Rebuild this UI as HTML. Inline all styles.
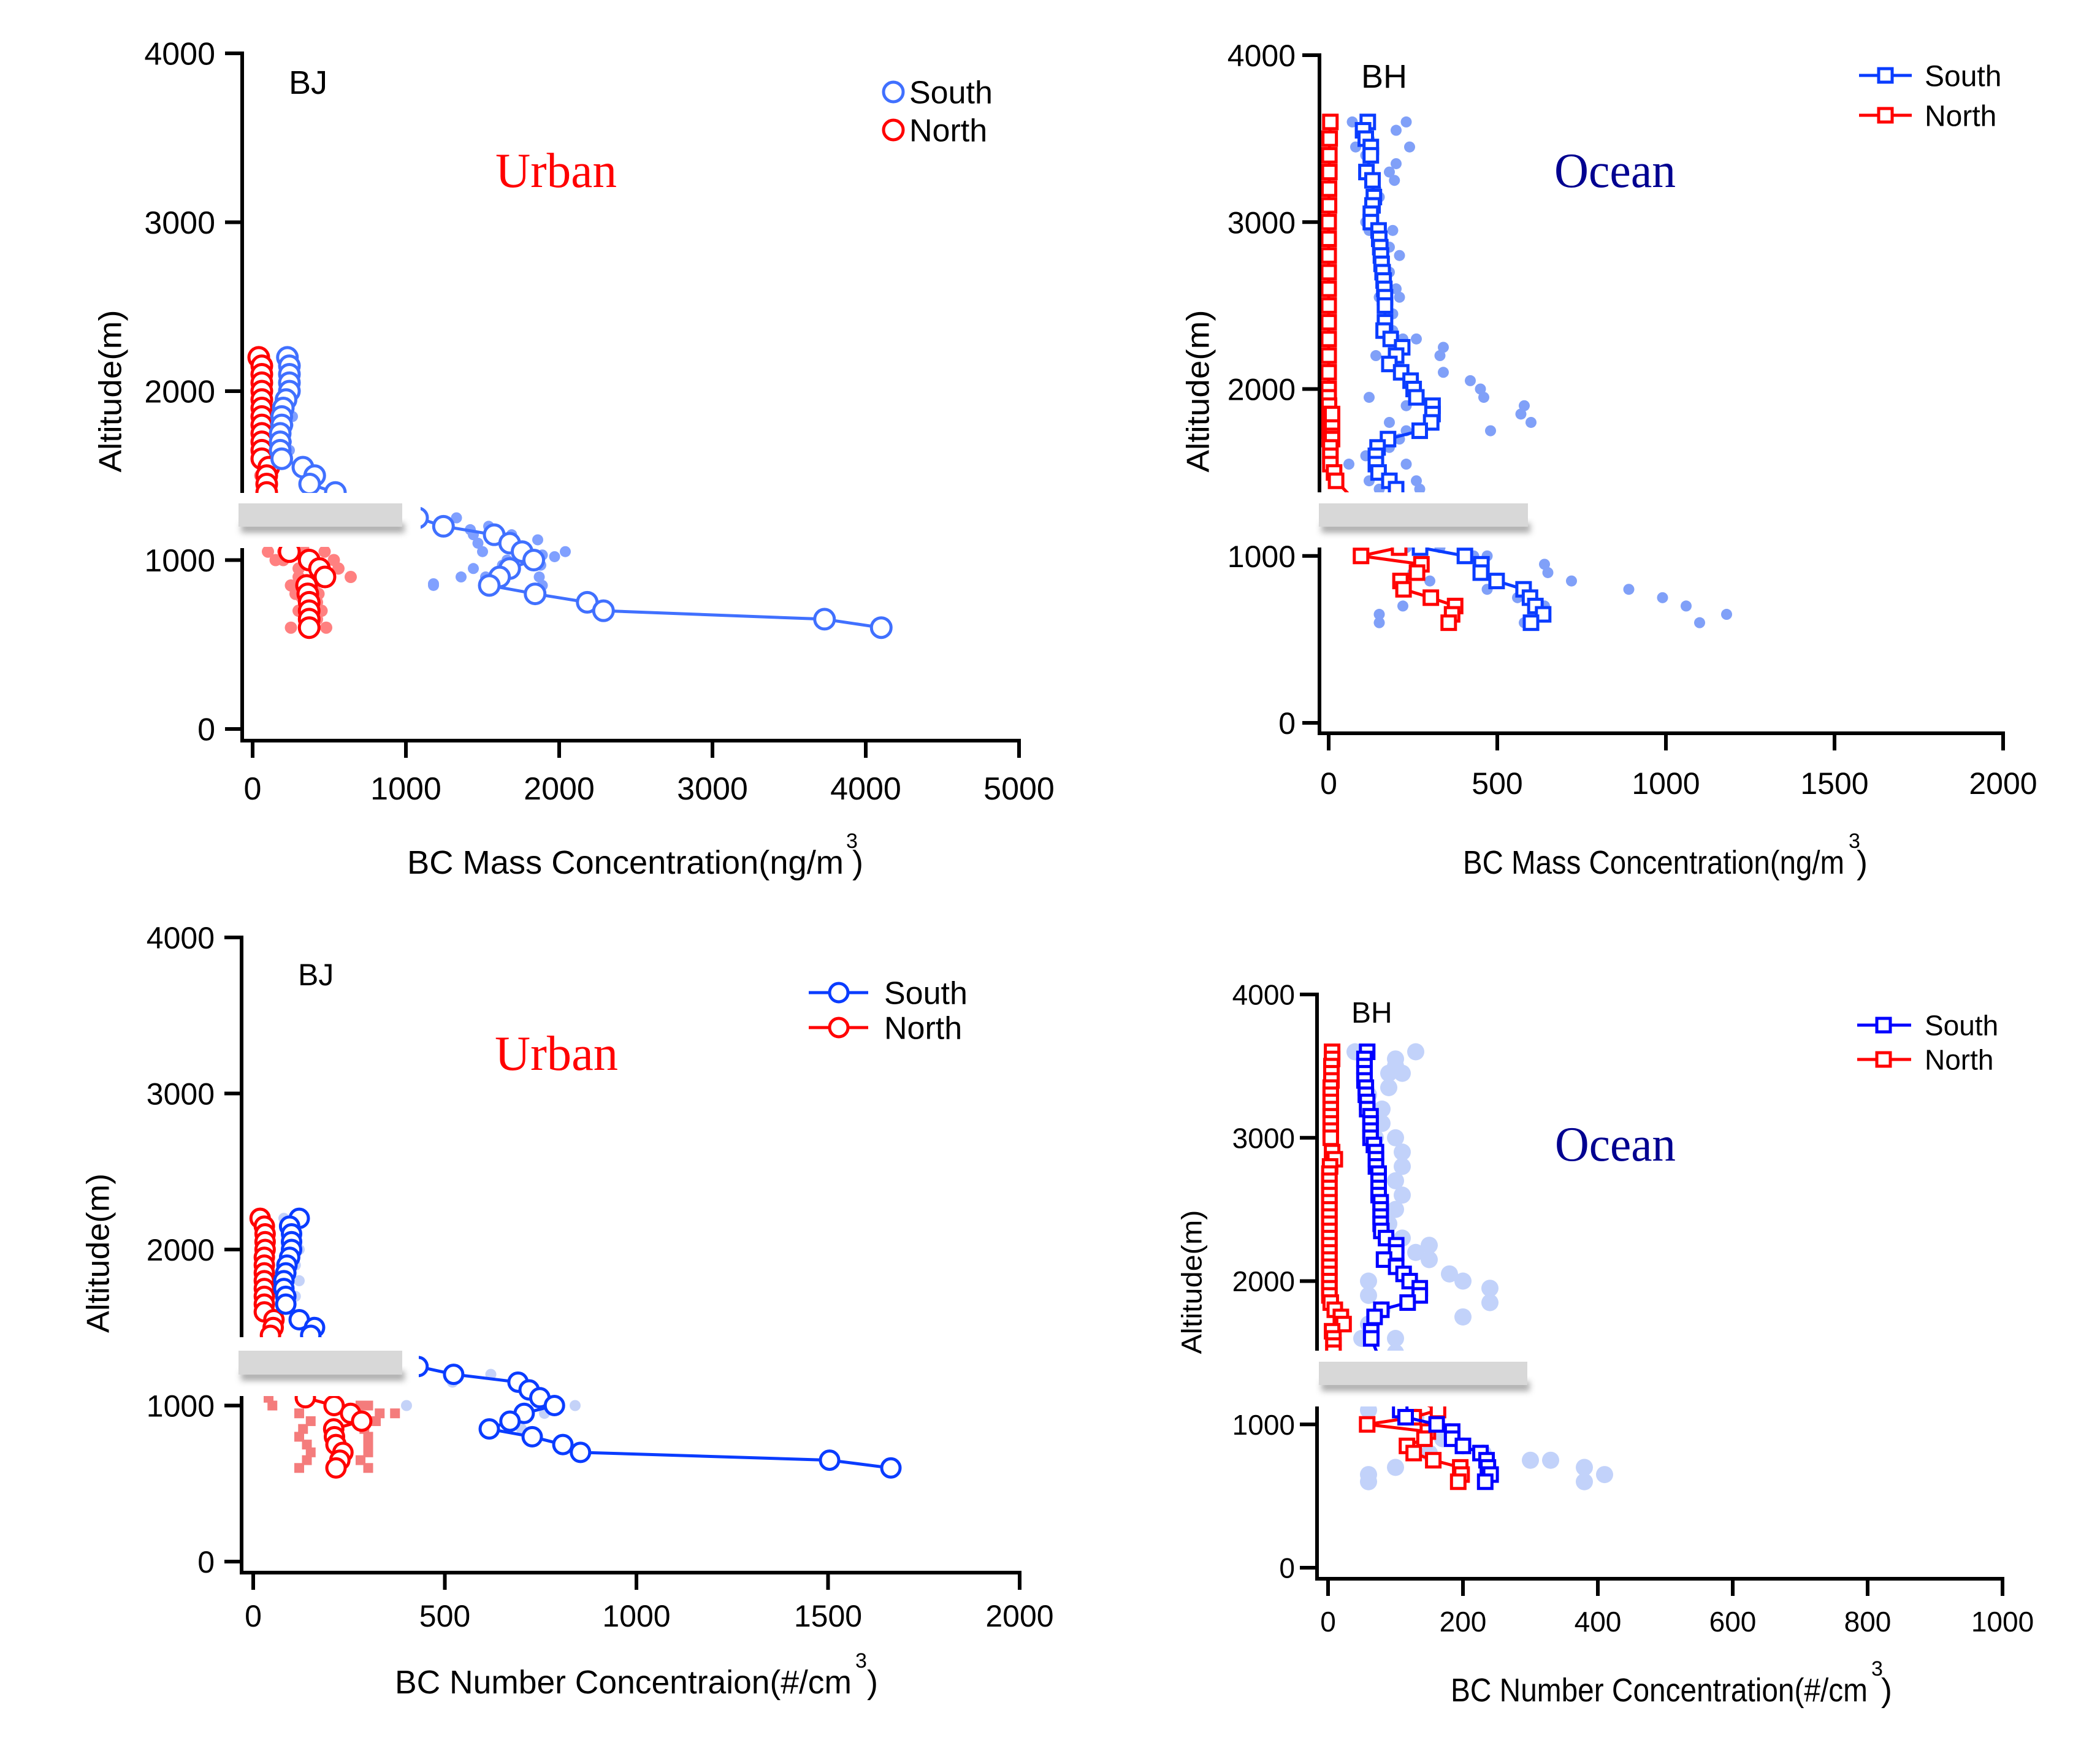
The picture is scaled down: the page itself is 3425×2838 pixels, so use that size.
<!DOCTYPE html>
<html><head><meta charset="utf-8"><title>BC vertical profiles</title>
<style>
html,body{margin:0;padding:0;background:#fff;}
svg{display:block;font-family:"Liberation Sans",Arial,sans-serif;}
</style></head>
<body>
<svg id="fig" xmlns="http://www.w3.org/2000/svg" width="3425" height="2838" viewBox="0 0 3425 2838">
<defs>
<filter id="shadow" x="-10%" y="-50%" width="120%" height="250%">
<feGaussianBlur stdDeviation="5"/>
</filter>
</defs>
<rect x="0" y="0" width="3425" height="2838" fill="#fff"/>
</svg>
<script>
// ---------- Panel 1: BJ mass ----------
const p1SouthX = [227,240,240,240,240,218,200,190,190,180,180,180,190,328,405,372,540,1076,1245,1576,1677,1758,1834,1677,1611,1544,1843,2183,2289,3731,4101];
const p1SouthY = [2200,2150,2100,2050,2000,1950,1900,1850,1800,1750,1700,1650,1600,1550,1500,1450,1400,1250,1200,1150,1100,1050,1000,950,900,850,800,750,700,650,600];
const p1NorthX = [40,60,60,60,60,60,60,60,60,60,60,60,60,106,92,92,92,240,369,436,472,352,360,369,369,369,369];
const p1NorthY = [2200,2150,2100,2050,2000,1950,1900,1850,1800,1750,1700,1650,1600,1550,1500,1450,1400,1050,1000,950,900,850,800,750,700,650,600];
const p1DotBX = [1330,1420,1440,1540,1580,1690,1860,1720,1470,1500,1660,1890,1970,2040,1880,1440,1630,1890,1180,1360,1180,1520,1870,250,240,250,260,230,220,240,200];
const p1DotBY = [1250,1180,1150,1200,1170,1150,1120,1050,1100,1050,1000,1030,1020,1050,970,950,970,850,860,900,850,900,900,2200,2100,2000,1850,1800,1700,1650,1600];
const p1DotRX = [100,150,200,270,330,470,530,560,640,300,250,280,320,300,420,450,420,250,480,400,430,200,300,50,80,40,60,30];
const p1DotRY = [1050,1000,1050,1030,1070,1050,1000,950,900,950,850,800,780,700,750,700,650,600,600,850,800,1000,900,1500,1450,1700,1800,2050];
const p1XTicks = [0,1000,2000,3000,4000,5000];
const p1YTicks = [0,1000,2000,3000,4000];

// ---------- Panel 2: BH mass ----------
const p2SouthX = [116,102,110,125,125,112,130,134,130,125,125,148,150,153,155,157,160,163,165,167,167,167,163,184,218,200,180,215,243,252,260,308,308,304,270,176,145,140,140,148,180,200,271,404,453,451,498,578,597,613,636,600];
const p2SouthY = [3600,3550,3500,3450,3400,3300,3250,3150,3100,3050,3000,2950,2900,2850,2800,2750,2700,2650,2600,2550,2500,2400,2350,2300,2250,2200,2150,2100,2050,2000,1950,1900,1850,1800,1750,1700,1650,1600,1550,1500,1450,1400,1050,1000,950,900,850,800,750,700,650,600];
const p2NorthX = [5,3,2,2,1,1,0,0,0,0,0,0,0,0,0,0,0,0,1,1,2,2,3,3,5,10,10,10,10,5,5,5,16,22,209,96,275,262,213,222,303,375,366,356];
const p2NorthY = [3600,3500,3400,3300,3200,3100,3000,2900,2800,2700,2600,2500,2400,2300,2200,2100,2000,1950,1900,1850,1850,1800,1750,1700,1700,1750,1800,1850,1700,1650,1600,1550,1500,1450,1050,1000,950,900,850,800,750,700,650,600];
const p2DotX = [70,100,120,80,110,230,200,240,200,180,195,140,150,130,110,120,190,180,210,160,180,200,150,210,190,160,190,220,260,340,330,140,340,420,450,460,580,570,600,480,230,120,180,230,210,60,110,180,230,260,120,150,270,230,330,430,470,640,650,720,890,990,1060,1180,1100,640,560,470,220,150,150,580,300,250];
const p2DotY = [3600,3550,3500,3450,3400,3600,3550,3450,3350,3300,3250,3200,3150,3100,3000,2950,2950,2850,2800,2750,2700,2600,2550,2550,2450,2400,2350,2300,2300,2250,2200,2200,2100,2050,2000,1950,1900,1850,1800,1750,1900,1950,1800,1750,1700,1550,1600,1650,1550,1450,1450,1400,1400,1050,1050,1000,1000,950,900,850,800,750,700,650,600,700,750,800,700,650,600,600,850,900];
const p2XTicks = [0,500,1000,1500,2000];
const p2YTicks = [0,1000,2000,3000,4000];

// ---------- Panel 3: BJ number ----------
const p3SouthX = [120,95,100,100,100,95,88,85,80,80,85,85,120,160,150,430,523,691,720,748,786,707,670,616,728,808,854,1504,1664];
const p3SouthY = [2200,2150,2100,2050,2000,1950,1900,1850,1800,1750,1700,1650,1550,1500,1450,1250,1200,1150,1100,1050,1000,950,900,850,800,750,700,650,600];
const p3NorthX = [18,29,31,31,31,29,29,29,29,29,29,29,29,54,52,45,136,211,254,283,210,212,216,234,226,216];
const p3NorthY = [2200,2150,2100,2050,2000,1950,1900,1850,1800,1750,1700,1650,1600,1550,1500,1450,1050,1000,950,900,850,800,750,700,650,600];
const p3DotBX = [130,80,110,120,110,120,110,400,700,760,840,250,300,530,620,520];
const p3DotBY = [2200,2200,2100,2000,1900,1800,1700,1000,850,950,1000,1200,1250,1200,1200,1150];
const p3SqRX = [40,50,120,150,130,120,140,150,140,120,280,300,330,370,320,290,300,300,300,280,300,60,40,20,30,25];
const p3SqRY = [1050,1000,950,900,850,800,750,700,650,600,1000,1000,950,950,900,850,800,750,700,650,600,1500,2100,1900,1800,1700];
const p3XTicks = [0,500,1000,1500,2000];
const p3YTicks = [0,1000,2000,3000,4000];

// ---------- Panel 4: BH number ----------
const p4SouthX = [58,54,54,54,54,56,56,58,58,63,63,63,63,68,71,71,71,75,75,75,75,78,78,78,78,79,86,101,101,83,101,112,121,136,136,118,79,69,64,64,107,115,161,184,184,200,226,235,237,241,233];
const p4SouthY = [3600,3550,3500,3450,3400,3350,3300,3250,3200,3150,3100,3050,3000,2950,2900,2850,2800,2750,2700,2650,2600,2550,2500,2450,2400,2350,2300,2250,2200,2150,2100,2050,2000,1950,1900,1850,1800,1750,1650,1600,1100,1050,1000,950,900,850,800,750,700,650,600];
const p4NorthX = [6,6,5,5,5,4,4,4,4,4,4,4,4,6,10,3,2,2,2,2,2,2,2,2,2,2,2,2,2,2,2,2,2,2,4,10,19,23,6,8,8,8,10,163,127,58,148,143,117,127,156,196,198,193];
const p4NorthY = [3600,3550,3500,3450,3400,3350,3300,3250,3200,3150,3100,3050,3000,2900,2850,2800,2750,2700,2650,2600,2550,2500,2450,2400,2350,2300,2250,2200,2150,2100,2050,2000,1950,1900,1850,1800,1750,1700,1650,1600,1550,1500,1450,1100,1050,1000,950,900,850,800,750,700,650,600];
const p4DotX = [40,100,100,90,90,60,80,80,70,100,110,110,100,110,100,90,110,150,130,150,180,200,240,240,200,60,60,80,60,50,100,100,130,110,60,130,160,180,200,230,300,330,380,410,380,60,60,100,150,170];
const p4DotY = [3600,3550,3500,3450,3350,3300,3200,3100,3000,3000,2900,2800,2700,2600,2500,2400,2300,2250,2200,2150,2050,2000,1950,1850,1750,2000,1900,1800,1700,1600,1600,1500,3600,3450,1100,1050,950,950,850,800,750,750,600,650,700,650,600,700,800,900];
const p4XTicks = [0,200,400,600,800,1000];
const p4YTicks = [0,1000,2000,3000,4000];

const NS = 'http://www.w3.org/2000/svg';
const svg = document.getElementById('fig');
function mk(tag, attrs, parent) {
  const e = document.createElementNS(NS, tag);
  for (const k in attrs) e.setAttribute(k, attrs[k]);
  (parent || svg).appendChild(e);
  return e;
}

const panels = [
  {id:'p1', ax:395, x0:412, xPer:0.25, xMax:5000, y0:1189, yPer:0.2755, xAxisY:1208, ytop:4000,
   xTicks:p1XTicks, yTicks:p1YTicks, lblFs:52, xLblBase:1304, yLblRight:351,
   gap:[804,894], cover:[383,804,303,88], bar:[389,821,267,38],
   south:{x:p1SouthX,y:p1SouthY,color:'#4070ff',marker:'circle',r:16,line:true},
   north:{x:p1NorthX,y:p1NorthY,color:'#ff0000',marker:'circle',r:16,line:false},
   dots:[{x:p1DotBX,y:p1DotBY,color:'#80a0ff',r:9,shape:'c'},{x:p1DotRX,y:p1DotRY,color:'#ff8080',r:10,shape:'c'}],
   site:'BJ', siteX:471, siteY:153, siteFs:54,
   region:'Urban', regX:808, regY:305, regW:198, regColor:'#ff0000',
   title:'BC Mass Concentration(ng/m', titleX:664, titleW:712, titleY:1425, supX:1380, parenX:1390,
   ylab:{x:179,y:638,w:265,fs:52},
   legend:{mx:1457, tx:1483, y1:150, y2:212, fs:52, line:false}},
  {id:'p2', ax:2152, x0:2167, xPer:0.55, xMax:2000, y0:1179, yPer:0.27225, xAxisY:1196, ytop:4000,
   xTicks:p2XTicks, yTicks:p2YTicks, lblFs:50, xLblBase:1295, yLblRight:2113,
   gap:[803,893], cover:[2140,803,355,90], bar:[2151,821,341,38],
   south:{x:p2SouthX,y:p2SouthY,color:'#0a3cff',marker:'square',r:11,line:true},
   north:{x:p2NorthX,y:p2NorthY,color:'#ff0000',marker:'square',r:11,line:true},
   dots:[{x:p2DotX,y:p2DotY,color:'#80a0f8',r:9,shape:'c'}],
   site:'BH', siteX:2220, siteY:143, siteFs:54,
   region:'Ocean', regX:2535, regY:305, regW:198, regColor:'#000090',
   title:'BC Mass Concentration(ng/m', titleX:2386, titleW:622, titleY:1425, supX:3015, parenX:3028,
   ylab:{x:1953,y:638,w:265,fs:52},
   legend:{lx1:3032, lx2:3118, mx:3075, tx:3139, y1:123, y2:188, fs:48, line:true}},
  {id:'p3', ax:394, x0:413, xPer:0.625, xMax:2000, y0:2547, yPer:0.2545, xAxisY:2565, ytop:4000,
   xTicks:p3XTicks, yTicks:p3YTicks, lblFs:50, xLblBase:2653, yLblRight:350,
   gap:[2181,2277], cover:[383,2181,300,96], bar:[389,2203,267,39],
   south:{x:p3SouthX,y:p3SouthY,color:'#0a3cff',marker:'circle',r:15,line:true},
   north:{x:p3NorthX,y:p3NorthY,color:'#ff0000',marker:'circle',r:15,line:true},
   dots:[{x:p3DotBX,y:p3DotBY,color:'#c4d2f8',r:9,shape:'c'},{x:p3SqRX,y:p3SqRY,color:'#f47c7c',r:8,shape:'s'}],
   site:'BJ', siteX:486, siteY:1607, siteFs:50,
   region:'Urban', regX:807, regY:1745, regW:201, regColor:'#ff0000',
   title:'BC Number Concentraion(#/cm', titleX:644, titleW:745, titleY:2762, supX:1395, parenX:1414,
   ylab:{x:159,y:2044,w:260,fs:52},
   legend:{lx1:1319, lx2:1416, mx:1368, tx:1442, y1:1619, y2:1676, fs:52, line:true}},
  {id:'p4', ax:2148, x0:2166, xPer:1.1, xMax:1000, y0:2557, yPer:0.23375, xAxisY:2575, ytop:4000,
   xTicks:p4XTicks, yTicks:p4YTicks, lblFs:46, xLblBase:2661, yLblRight:2112,
   gap:[2203,2294], cover:[2140,2203,355,91], bar:[2151,2221,340,38],
   south:{x:p4SouthX,y:p4SouthY,color:'#0000ff',marker:'square',r:11,line:true},
   north:{x:p4NorthX,y:p4NorthY,color:'#ff0000',marker:'square',r:11,line:true},
   dots:[{x:p4DotX,y:p4DotY,color:'#c2d2fa',r:14,shape:'c'}],
   site:'BH', siteX:2204, siteY:1668, siteFs:48,
   region:'Ocean', regX:2536, regY:1893, regW:197, regColor:'#000090',
   title:'BC Number Concentration(#/cm', titleX:2366, titleW:680, titleY:2775, supX:3052, parenX:3068,
   ylab:{x:1943,y:2091,w:235,fs:46},
   legend:{lx1:3029, lx2:3117, mx:3072, tx:3139, y1:1672, y2:1728, fs:46, line:true}}
];

panels.forEach(p => {
  const sx = v => p.x0 + v * p.xPer;
  const sy = a => p.y0 - a * p.yPer;
  const g = mk('g', {});
  
  

  p.dots.forEach((d, di) => {
    const dg = mk('g', {fill: d.color}, g);
    
    
    d.x.forEach((v, i) => {
      let e;
      if (d.shape === 's') e = mk('rect', {x: sx(v) - d.r, y: sy(d.y[i]) - d.r, width: 2 * d.r, height: 2 * d.r}, dg);
      else e = mk('circle', {cx: sx(v), cy: sy(d.y[i]), r: d.r}, dg);
      
      
    });
  });

  [['north', p.north], ['south', p.south]].forEach(([nm, s]) => {
    const sg = mk('g', {}, g);
    
    
    if (s.line) {
      const pts = s.x.map((v, i) => sx(v) + ',' + sy(s.y[i])).join(' ');
      const pl = mk('polyline', {points: pts, fill: 'none', stroke: s.color, 'stroke-width': 5, 'stroke-linejoin': 'round'}, sg);
      
      
    }
    s.x.forEach((v, i) => {
      let e;
      if (s.marker === 'circle') e = mk('circle', {cx: sx(v), cy: sy(s.y[i]), r: s.r, fill: '#fff', stroke: s.color, 'stroke-width': 5}, sg);
      else e = mk('rect', {x: sx(v) - s.r, y: sy(s.y[i]) - s.r, width: 2 * s.r, height: 2 * s.r, fill: '#fff', stroke: s.color, 'stroke-width': 5}, sg);
      
      
    });
  });

  const cv = mk('rect', {x: p.cover[0], y: p.cover[1], width: p.cover[2], height: p.cover[3], fill: '#fff'}, g);
  
  
  const sh = mk('rect', {x: p.bar[0] + 4, y: p.bar[1] + p.bar[3] - 6, width: p.bar[2], height: 16, fill: '#999', opacity: 0.8, filter: 'url(#shadow)'}, g);
  
  
  const br = mk('rect', {x: p.bar[0], y: p.bar[1], width: p.bar[2], height: p.bar[3], fill: '#d8d8d8'}, g);
  
  

  const ytopPx = sy(p.ytop);
  const ya1 = mk('line', {x1: p.ax, y1: ytopPx - 3, x2: p.ax, y2: p.gap[0], stroke: '#000', 'stroke-width': 6}, g);
  
  
  const ya2 = mk('line', {x1: p.ax, y1: p.gap[1], x2: p.ax, y2: p.xAxisY + 3, stroke: '#000', 'stroke-width': 6}, g);
  
  
  const xa = mk('line', {x1: p.ax - 3, y1: p.xAxisY, x2: sx(p.xMax) + 3, y2: p.xAxisY, stroke: '#000', 'stroke-width': 6}, g);
  
  

  p.yTicks.forEach(t => {
    if (sy(t) > p.gap[0] && sy(t) < p.gap[1]) return;
    const tk = mk('line', {x1: p.ax - 28, y1: sy(t), x2: p.ax, y2: sy(t), stroke: '#000', 'stroke-width': 6}, g);
    
    
    const tl = mk('text', {x: p.yLblRight, y: sy(t) + p.lblFs * 0.36, 'font-size': p.lblFs, 'text-anchor': 'end', fill: '#000'}, g);
    tl.textContent = t;
    
    
  });
  p.xTicks.forEach(t => {
    const tk = mk('line', {x1: sx(t), y1: p.xAxisY, x2: sx(t), y2: p.xAxisY + 28, stroke: '#000', 'stroke-width': 6}, g);
    
    
    const tl = mk('text', {x: sx(t), y: p.xLblBase, 'font-size': p.lblFs, 'text-anchor': 'middle', fill: '#000'}, g);
    tl.textContent = t;
    
    
  });

  const xt = mk('text', {x: p.titleX, y: p.titleY, 'font-size': 54, textLength: p.titleW, lengthAdjust: 'spacingAndGlyphs', fill: '#000'}, g);
  xt.textContent = p.title;
  
  
  const sp = mk('text', {x: p.supX, y: p.titleY - 42, 'font-size': 34, fill: '#000'}, g);
  sp.textContent = '3';
  
  
  const pr = mk('text', {x: p.parenX, y: p.titleY, 'font-size': 54, fill: '#000'}, g);
  pr.textContent = ')';
  
  

  const yt = mk('text', {x: 0, y: 0, 'font-size': p.ylab.fs, 'text-anchor': 'middle', textLength: p.ylab.w, lengthAdjust: 'spacingAndGlyphs', transform: 'translate(' + (p.ylab.x + p.ylab.fs * 0.36) + ',' + p.ylab.y + ') rotate(-90)', fill: '#000'}, g);
  yt.textContent = 'Altitude(m)';
  
  

  const st = mk('text', {x: p.siteX, y: p.siteY, 'font-size': p.siteFs, fill: '#000'}, g);
  st.textContent = p.site;
  
  

  const rg = mk('text', {x: p.regX, y: p.regY, 'font-size': 80, textLength: p.regW, lengthAdjust: 'spacingAndGlyphs', fill: p.regColor, 'font-family': '"Liberation Serif", serif'}, g);
  rg.textContent = p.region;
  
  

  const L = p.legend;
  const lg = mk('g', {}, g);
  
  
  [['South', p.south, L.y1], ['North', p.north, L.y2]].forEach(([lab, s, yy]) => {
    const eg = mk('g', {}, lg);
    
    
    if (L.line) mk('line', {x1: L.lx1, y1: yy, x2: L.lx2, y2: yy, stroke: s.color, 'stroke-width': 5}, eg);
    if (s.marker === 'circle') mk('circle', {cx: L.mx, cy: yy, r: s.r, fill: '#fff', stroke: s.color, 'stroke-width': 5}, eg);
    else mk('rect', {x: L.mx - s.r, y: yy - s.r, width: 2 * s.r, height: 2 * s.r, fill: '#fff', stroke: s.color, 'stroke-width': 5}, eg);
    const tx = mk('text', {x: L.tx, y: yy + L.fs * 0.36, 'font-size': L.fs, fill: '#000'}, eg);
    tx.textContent = lab;
  });
});
</script>
</body></html>
